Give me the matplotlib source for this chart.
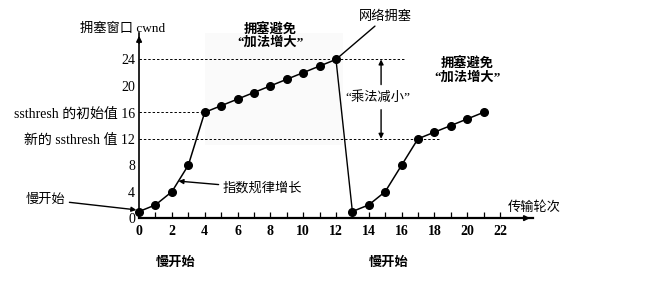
import matplotlib
matplotlib.use("Agg")
import matplotlib.pyplot as plt

plt.rcParams['font.family'] = ['Liberation Serif', 'Noto Sans CJK SC']

# transmission rounds and cwnd values
rounds_a = [0, 1, 2, 3, 4, 5, 6, 7, 8, 9, 10, 11, 12]
cwnd_a = [1, 2, 4, 8, 16, 17, 18, 19, 20, 21, 22, 23, 24]
rounds_b = [13, 14, 15, 16, 17, 18, 19, 20, 21]
cwnd_b = [1, 2, 4, 8, 12, 13, 14, 15, 16]

ytick_vals = [0, 4, 8, 12, 16, 20, 24]
ytick_labels = ['0', '4', '8', '新的 ssthresh 值 12', 'ssthresh 的初始值 16', '20', '24']
xtick_vals = [0, 2, 4, 6, 8, 10, 12, 14, 16, 18, 20, 22]

fig = plt.figure(figsize=(6.53, 2.87), dpi=100)
ax = fig.add_axes([0.213, 0.240, 0.603, 0.645])
ax.set_xlim(0, 24)
ax.set_ylim(0, 28)

# faint shading behind the first congestion-avoidance phase
ax.axvspan(4, 12.4, ymin=11 / 28, ymax=1.0, color='0.5', alpha=0.035, lw=0)

# dashed reference lines
ax.plot([0, 16.2], [24, 24], ls=(0, (2.5, 2)), color='k', lw=0.7)
ax.plot([0, 4], [16, 16], ls=(0, (2.5, 2)), color='k', lw=0.7)
ax.plot([0, 18.3], [12, 12], ls=(0, (2.5, 2)), color='k', lw=0.7)

# cwnd curve
ax.plot(rounds_a, cwnd_a, color='k', lw=1.1, marker='o', ms=5.5, clip_on=False, zorder=5)
ax.plot([rounds_a[-1], rounds_b[0]], [cwnd_a[-1], cwnd_b[0]], color='k', lw=1.0, zorder=4)
ax.plot(rounds_b, cwnd_b, color='k', lw=1.1, marker='o', ms=5.5, clip_on=False, zorder=5)

# axes
for s in ['top', 'right']:
    ax.spines[s].set_visible(False)
ax.spines['left'].set_linewidth(1.2)
ax.spines['bottom'].set_linewidth(1.6)
ax.annotate('', xy=(0, 1.0), xytext=(0, 0.93), xycoords='axes fraction',
            arrowprops=dict(arrowstyle='-|>', color='k', lw=1.2, mutation_scale=8))
ax.annotate('', xy=(1.0, 0), xytext=(0.95, 0), xycoords='axes fraction',
            arrowprops=dict(arrowstyle='-|>', color='k', lw=1.2, mutation_scale=8))

ax.set_yticks(ytick_vals)
ax.set_yticklabels(ytick_labels, fontsize=10)
ax.tick_params(axis='y', length=0, pad=3)
ax.set_xticks(xtick_vals)
ax.set_xticklabels([str(v) for v in xtick_vals], fontsize=10, fontweight='bold')
ax.set_xticks(range(1, 23), minor=True)
ax.tick_params(axis='x', which='both', direction='in', length=4, width=0.9, pad=5)

ax.text(-1.0, 28.6, '拥塞窗口 cwnd', fontsize=9.5, ha='center', va='center', clip_on=False)
ax.text(24.1, 1.6, '传输轮次', fontsize=9.5, ha='center', va='center', clip_on=False)

ax.text(8, 27.5, '拥塞避免\n“加法增大”', fontsize=9.5, fontweight='bold', ha='center',
        va='center', linespacing=1.0, clip_on=False)
ax.text(20, 22.3, '拥塞避免\n“加法增大”', fontsize=9.5, fontweight='bold', ha='center',
        va='center', linespacing=1.0)

ax.annotate('网络拥塞', xy=(12, 24), xytext=(13.4, 30.4), fontsize=9.5, va='center',
            ha='left', annotation_clip=False,
            arrowprops=dict(arrowstyle='-', color='k', lw=1.0, shrinkA=0, shrinkB=0))

ax.annotate('', xy=(14.75, 24), xytext=(14.75, 20.2),
            arrowprops=dict(arrowstyle='-|>', color='k', lw=1.0, mutation_scale=7, shrinkA=0, shrinkB=0))
ax.annotate('', xy=(14.75, 12), xytext=(14.75, 16.4),
            arrowprops=dict(arrowstyle='-|>', color='k', lw=1.0, mutation_scale=7, shrinkA=0, shrinkB=0))
ax.text(14.55, 18.3, '“乘法减小”', fontsize=9.5, ha='center', va='center')

ax.annotate('慢开始', xy=(0, 1.2), xytext=(-4.5, 2.8), fontsize=9.5, ha='right', va='center',
            annotation_clip=False,
            arrowprops=dict(arrowstyle='-|>', color='k', lw=1.0, mutation_scale=7, shrinkA=1, shrinkB=2))
ax.annotate('指数规律增长', xy=(2.4, 5.6), xytext=(5.1, 4.5), fontsize=9.5, ha='left', va='center',
            arrowprops=dict(arrowstyle='-|>', color='k', lw=1.0, mutation_scale=7, shrinkA=1, shrinkB=0))

ax.text(2.2, -6.7, '慢开始', fontsize=9.5, fontweight='bold', ha='center', va='center', clip_on=False)
ax.text(15.2, -6.7, '慢开始', fontsize=9.5, fontweight='bold', ha='center', va='center', clip_on=False)

fig.savefig('out.png', dpi=100)
